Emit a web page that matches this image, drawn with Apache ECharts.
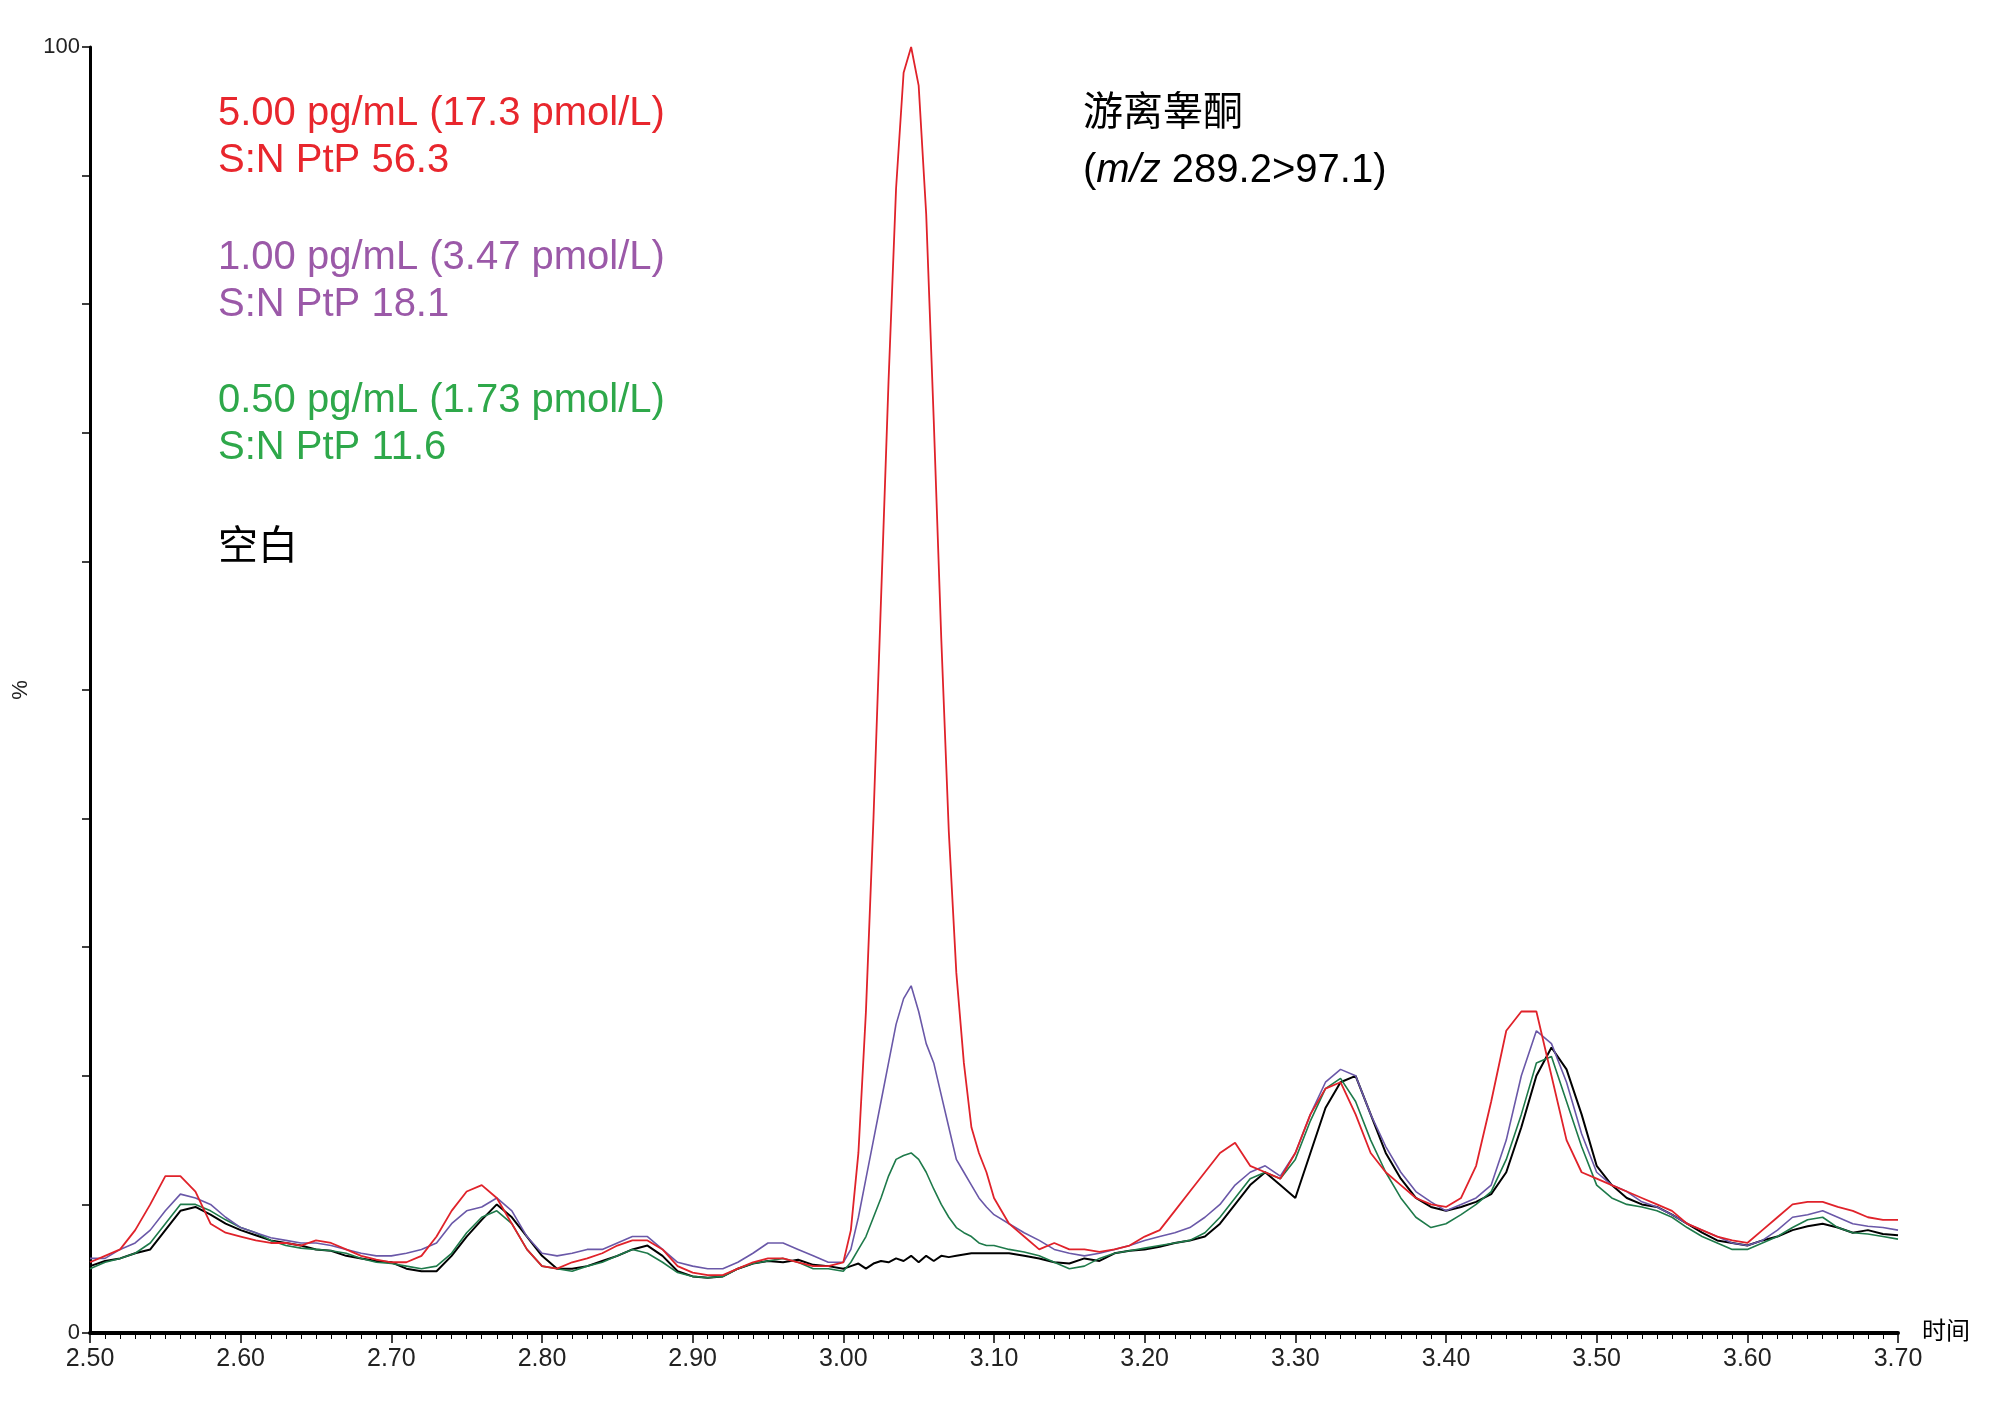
<!DOCTYPE html>
<html>
<head>
<meta charset="utf-8">
<script src="https://cdn.jsdelivr.net/npm/echarts@6/dist/echarts.min.js"></script>
<style>html,body{margin:0;padding:0;background:#fff;}#chart{width:2000px;height:1407px;}</style>
</head>
<body>
<div id="chart"></div>
<script>
// 保留时间（分钟），峰附近加密
var timeList = [2.50,2.51,2.52,2.53,2.54,2.55,2.56,2.57,2.58,2.59,2.60,2.61,2.62,2.63,2.64,2.65,2.66,2.67,2.68,2.69,2.70,2.71,2.72,2.73,2.74,2.75,2.76,2.77,2.78,2.79,2.80,2.81,2.82,2.83,2.84,2.85,2.86,2.87,2.88,2.89,2.90,2.91,2.92,2.93,2.94,2.95,2.96,2.97,2.98,2.99,3.00,
	3.005,3.01,3.015,3.02,3.025,3.03,3.035,3.04,3.045,3.05,3.055,3.06,3.065,3.07,3.075,3.08,3.085,3.09,3.095,3.10,
	3.11,3.12,3.13,3.14,3.15,3.16,3.17,3.18,3.19,3.20,3.21,3.22,3.23,3.24,3.25,3.26,3.27,3.28,3.29,3.30,3.31,3.32,3.33,3.34,3.35,3.36,3.37,3.38,3.39,3.40,3.41,3.42,3.43,3.44,3.45,3.46,3.47,3.48,3.49,3.50,3.51,3.52,3.53,3.54,3.55,3.56,3.57,3.58,3.59,3.60,3.61,3.62,3.63,3.64,3.65,3.66,3.67,3.68,3.69,3.70];

var red5 = [5.5,6,6.5,8,10,12.2,12.2,11,8.5,7.8,7.5,7.2,7,7,6.8,7.2,7,6.5,6,5.7,5.5,5.5,6,7.5,9.5,11,11.5,10.5,8.5,6.5,5.2,5,5.5,5.8,6.2,6.8,7.2,7.2,6.5,5.2,4.7,4.5,4.5,5,5.5,5.8,5.8,5.5,5.2,5.2,5.5,
	8,14,25,40,57,74,89,98,100,97,87,71,54,39,28,21,16,14,12.5,10.5,
	8.5,7.5,6.5,7,6.5,6.5,6.3,6.5,6.8,7.5,8,9.5,11,12.5,14,14.8,13,12.5,12,14,17,19,19.5,17,14,12.5,11.5,10.5,10,9.8,10.5,13,18,23.5,25,25,20,15,12.5,12,11.5,11,10.5,10,9.5,8.5,8,7.5,7.2,7,8,9,10,10.2,10.2,9.8,9.5,9,8.8,8.8];

var purple1 = [5.8,5.8,6.5,7,8,9.5,10.8,10.5,10,9,8.2,7.8,7.4,7.2,7,7,6.8,6.5,6.2,6,6,6.2,6.5,7,8.5,9.5,9.8,10.5,9.5,7.5,6.2,6,6.2,6.5,6.5,7,7.5,7.5,6.5,5.5,5.2,5,5,5.5,6.2,7,7,6.5,6,5.5,5.5,
	6.5,9,12,15,18,21,24,26,27,25,22.5,21,18.5,16,13.5,12.5,11.5,10.5,9.8,9.2,
	8.5,7.8,7.2,6.5,6.2,6,6.2,6.5,6.8,7.2,7.5,7.8,8.2,9,10,11.5,12.5,13,12.2,14,17,19.5,20.5,20,17,14.5,12.5,11,10.2,9.5,10,10.5,11.5,15,20,23.5,22.5,19.5,15.5,12.5,11.5,11,10.2,9.8,9.2,8.5,8,7.5,7,6.8,7.2,8,9,9.2,9.5,9,8.5,8.3,8.2,8];

var green05 = [5,5.5,5.8,6.2,7,8.5,10,10,9.5,8.8,8.2,7.8,7.2,6.8,6.6,6.5,6.4,6.2,5.8,5.5,5.4,5.2,5,5.2,6.2,7.8,9,9.5,8.5,6.5,5.2,5,4.8,5.2,5.5,6,6.5,6.2,5.5,4.7,4.4,4.3,4.4,5,5.4,5.6,5.8,5.5,5,5,4.8,
	5.5,6.5,7.5,9,10.5,12.2,13.5,13.8,14,13.5,12.5,11.2,10,9,8.2,7.8,7.5,7,6.8,6.8,
	6.5,6.3,6,5.5,5,5.2,5.8,6.2,6.4,6.6,6.8,7,7.2,7.8,9,10.5,12,12.5,12,13.5,16.5,19,19.8,18,15,12.5,10.5,9,8.2,8.5,9.2,10,11,13.5,17,21,21.5,18,14.5,11.5,10.5,10,9.8,9.5,9,8.2,7.5,7,6.5,6.5,7,7.5,8.2,8.8,9,8.2,7.8,7.7,7.5,7.3];

var blank = [5.2,5.6,5.8,6.2,6.5,8,9.5,9.8,9.2,8.5,8,7.6,7.2,7,6.8,6.5,6.4,6,5.8,5.6,5.5,5,4.8,4.8,6,7.5,8.8,10,9,7.5,6,5,5,5.2,5.6,6,6.5,6.8,6,4.8,4.4,4.3,4.4,5,5.4,5.6,5.5,5.7,5.3,5.2,5,
	5.2,5.4,5,5.4,5.6,5.5,5.8,5.6,6,5.5,6,5.6,6,5.9,6,6.1,6.2,6.2,6.2,6.2,
	6.2,6,5.8,5.5,5.4,5.8,5.6,6.2,6.4,6.5,6.7,7,7.2,7.5,8.5,10,11.5,12.5,11.5,10.5,14,17.5,19.5,20,17,14,12,10.5,9.8,9.5,9.8,10.2,10.8,12.5,16,20,22.2,20.5,17,13,11.5,10.5,10,9.8,9.2,8.5,7.8,7.2,7,6.8,7.2,7.5,8,8.3,8.5,8.2,7.8,8,7.7,7.6];

var xTickLabels = ['2.50','2.60','2.70','2.80','2.90','3.00','3.10','3.20','3.30','3.40','3.50','3.60','3.70'];

function pairs(vals){
	var out = [];
	for(var i=0;i<timeList.length;i++){
		out.push([timeList[i], vals[i]]);
	}
	return out;
}

var myChart = echarts.init(document.getElementById('chart'));
var labelFont = 'Liberation Sans';
var txt = function(x, y, s, color){
	return {type:'text', left:x, top:y, style:{text:s, fill:color, font:'40px "Liberation Sans", "Noto Sans CJK SC"'}};
};
var option = {
	backgroundColor:'#fff',
	animation:false,
	grid:{left:90, right:102, top:47, bottom:74},
	xAxis:{
		type:'value', min:2.5, max:3.7, interval:0.1,
		axisLine:{show:true, lineStyle:{color:'#000', width:4}},
		axisTick:{show:true, length:10, lineStyle:{color:'#000', width:1.5}},
		minorTick:{show:true, splitNumber:10, length:6, lineStyle:{color:'#000'}},
		splitLine:{show:false},
		axisLabel:{
			color:'#222', fontSize:25, fontFamily:labelFont, margin:14,
			formatter:function(v){
				var s = v.toFixed(2);
				return xTickLabels.indexOf(s) >= 0 ? s : '';
			}
		}
	},
	yAxis:{
		type:'value', min:0, max:100, interval:10,
		name:'%', nameLocation:'middle', nameGap:12,
		nameTextStyle:{color:'#222', fontSize:22, fontFamily:labelFont},
		axisLine:{show:true, lineStyle:{color:'#000', width:3}},
		axisTick:{show:true, length:8, lineStyle:{color:'#000', width:1.5}},
		splitLine:{show:false},
		axisLabel:{
			color:'#222', fontSize:22, fontFamily:labelFont, margin:10,
			formatter:function(v){ return (v === 0 || v === 100) ? String(v) : ''; }
		}
	},
	graphic:[
		txt(218, 94, '5.00 pg/mL (17.3 pmol/L)', '#e8262d'),
		txt(218, 141, 'S:N PtP 56.3', '#e8262d'),
		txt(218, 238, '1.00 pg/mL (3.47 pmol/L)', '#9b59a8'),
		txt(218, 285, 'S:N PtP 18.1', '#9b59a8'),
		txt(218, 381, '0.50 pg/mL (1.73 pmol/L)', '#2ea84a'),
		txt(218, 428, 'S:N PtP 11.6', '#2ea84a'),
		txt(218, 528, '空白', '#000'),
		txt(1083, 94, '游离睾酮', '#000'),
		{type:'text', left:1083, top:151, style:{rich:{i:{font:'italic 40px "Liberation Sans"', fill:'#000'}, n:{font:'40px "Liberation Sans"', fill:'#000'}}, text:'{n|(}{i|m/z}{n| 289.2>97.1)}'}},
		{type:'text', left:1922, top:1318, style:{text:'时间', fill:'#000', font:'24px "Noto Sans CJK SC"'}}
	],
	series:[
		{name:'空白', type:'line', data:pairs(blank), showSymbol:false, lineStyle:{color:'#000', width:2}},
		{name:'0.50', type:'line', data:pairs(green05), showSymbol:false, lineStyle:{color:'#1e7a4a', width:1.6}},
		{name:'1.00', type:'line', data:pairs(purple1), showSymbol:false, lineStyle:{color:'#6a58a8', width:1.6}},
		{name:'5.00', type:'line', data:pairs(red5), showSymbol:false, lineStyle:{color:'#e0222a', width:1.8}}
	]
};
myChart.setOption(option, true);
</script>
</body>
</html>
